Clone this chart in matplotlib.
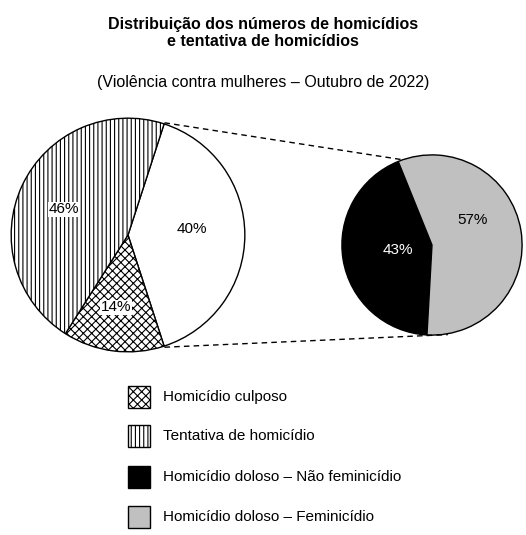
import numpy as np
import matplotlib.pyplot as plt
from matplotlib.patches import Rectangle

plt.rcParams['font.family'] = ['Liberation Sans', 'DejaVu Sans']
plt.rcParams['hatch.linewidth'] = 0.8

W, H = 526, 535

# dados
main_labels = ['40%', '14%', '46%']
main_values = [40, 14, 46]
sub_labels = ['43%', '57%']
sub_values = [43, 57]
legend_names = ['Homicídio culposo', 'Tentativa de homicídio',
                'Homicídio doloso – Não feminicídio', 'Homicídio doloso – Feminicídio']


def fx(x):
    return x / W


def fy(y):
    return 1 - y / H


fig = plt.figure(figsize=(W / 100, H / 100), dpi=100)

fig.text(fx(263), fy(33), 'Distribuição dos números de homicídios\ne tentativa de homicídios',
         ha='center', va='center', fontsize=11.5, fontweight='bold', linespacing=1.15)
fig.text(fx(263), fy(82), '(Violência contra mulheres – Outubro de 2022)',
         ha='center', va='center', fontsize=11.5)

# pizza principal
cx, cy, r = 128, 235, 118
ax1 = fig.add_axes([fx(cx - r), fy(cy + r), 2 * r / W, 2 * r / H])
wedges, _ = ax1.pie(main_values, startangle=72, counterclock=False,
                    colors=['white'] * 3,
                    wedgeprops=dict(edgecolor='black', linewidth=1.0))
wedges[1].set_hatch('xxxx')
wedges[2].set_hatch('||||')
ax1.set_xlim(-1.01, 1.01)
ax1.set_ylim(-1.01, 1.01)
ax1.set_aspect('equal')
ax1.text(0.55, 0.05, main_labels[0], ha='center', va='center', fontsize=11)
ax1.text(-0.1, -0.62, main_labels[1], ha='center', va='center', fontsize=11,
         bbox=dict(facecolor='white', edgecolor='none', pad=0.5))
ax1.text(-0.55, 0.22, main_labels[2], ha='center', va='center', fontsize=11,
         bbox=dict(facecolor='white', edgecolor='none', pad=0.5))

# pizza secundária
cx2, cy2, r2 = 432, 245, 91
ax2 = fig.add_axes([fx(cx2 - r2), fy(cy2 + r2), 2 * r2 / W, 2 * r2 / H])
ax2.pie(sub_values, startangle=112, counterclock=True,
        colors=['black', '#c0c0c0'],
        wedgeprops=dict(edgecolor='black', linewidth=1.0))
ax2.set_xlim(-1.01, 1.01)
ax2.set_ylim(-1.01, 1.01)
ax2.set_aspect('equal')
ax2.text(-0.38, -0.05, sub_labels[0], ha='center', va='center', fontsize=11, color='white')
ax2.text(0.45, 0.28, sub_labels[1], ha='center', va='center', fontsize=11)

# linhas de ligação
a1 = np.deg2rad(72)
a2 = np.deg2rad(110)
a3 = np.deg2rad(-80)
p_top = (cx + r * np.cos(a1), cy - r * np.sin(a1))
p_bot = (cx + r * np.cos(a1), cy + r * np.sin(a1))
q_top = (cx2 + r2 * np.cos(a2), cy2 - r2 * np.sin(a2))
q_bot = (cx2 + r2 * np.cos(a3), cy2 - r2 * np.sin(a3))
for p, q in [(p_top, q_top), (p_bot, q_bot)]:
    fig.add_artist(plt.Line2D([fx(p[0]), fx(q[0])], [fy(p[1]), fy(q[1])],
                              color='black', linestyle=(0, (4, 3)), linewidth=1.0))

# legenda
legend_style = [dict(facecolor='white', hatch='xxxx'),
                dict(facecolor='white', hatch='||||'),
                dict(facecolor='black'),
                dict(facecolor='#c0c0c0')]
ys = [397, 436, 477, 517]
for name, st, y in zip(legend_names, legend_style, ys):
    fig.add_artist(Rectangle((fx(128), fy(y + 11)), 22 / W, 22 / H,
                             edgecolor='black', linewidth=1.0, transform=fig.transFigure, **st))
    fig.text(fx(163), fy(y), name, ha='left', va='center', fontsize=11)

fig.savefig('out.png', dpi=100)
